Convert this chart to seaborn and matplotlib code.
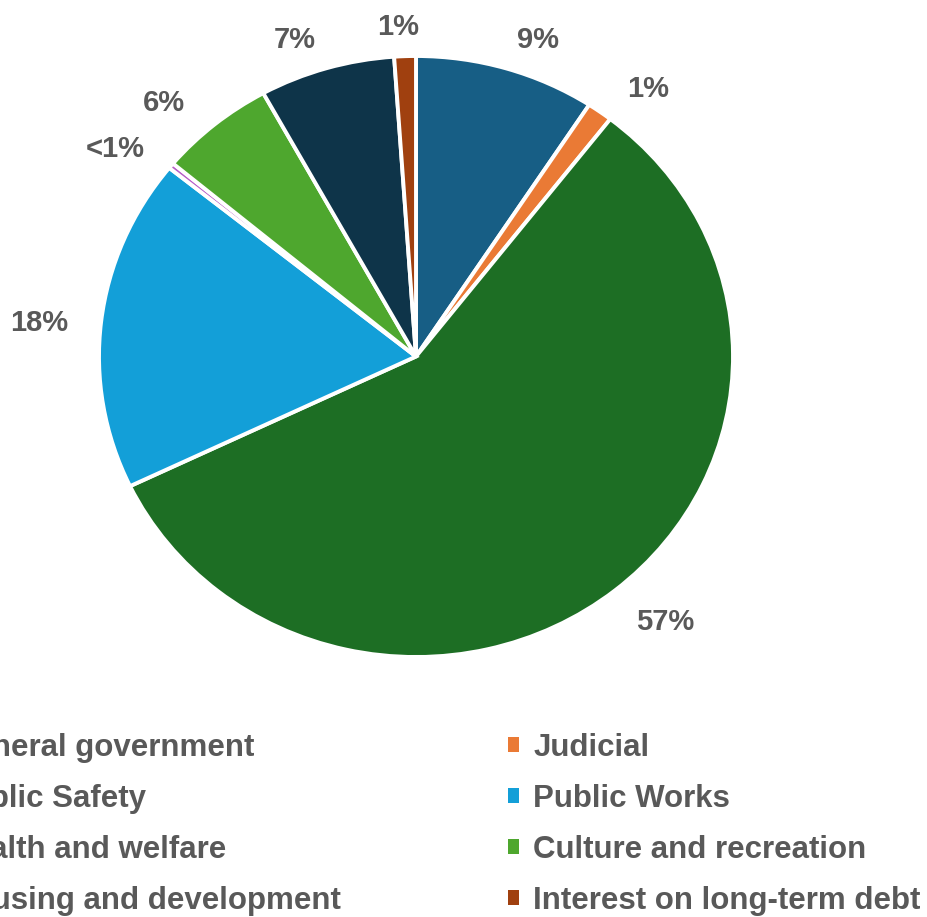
import matplotlib
matplotlib.use("Agg")
import numpy as np
import matplotlib.pyplot as plt
import seaborn as sns
from matplotlib.patches import Patch

# ---- data ----
categories = ["General government", "Judicial", "Public Safety", "Public Works",
              "Health and welfare", "Culture and recreation",
              "Housing and development", "Interest on long-term debt"]
values = [9.2, 1.3, 57.4, 17.9, 0.3, 5.9, 6.9, 1.1]
pct_labels = ["9%", "1%", "57%", "18%", "<1%", "6%", "7%", "1%"]
colors = ["#175E85", "#EA7A35", "#1D6E24", "#139FD8",
          "#B65CC8", "#4EA72E", "#0E3449", "#A0400F"]

sns.set_theme(style="white")
plt.rcParams["font.family"] = ["Liberation Sans", "DejaVu Sans"]
text_color = "#595959"

W, H = 928, 917
fig = plt.figure(figsize=(W / 100, H / 100), dpi=100)

# pie centre / radii in pixels (top-origin)
cx, cy, rx, ry = 416, 356.5, 317, 300.5
ax = fig.add_axes([(cx - rx) / W, (H - cy - ry) / H, 2 * rx / W, 2 * ry / H])

wedges, _ = ax.pie(values, colors=colors, startangle=90, counterclock=False,
                   wedgeprops=dict(edgecolor="white", linewidth=2.8))
ax.set_aspect("auto")
ax.set_xlim(-1, 1)
ax.set_ylim(-1, 1)
ax.axis("off")

# outside-end labels, placed from each wedge's mid angle
lab_rx, lab_ry, shape_p = 1.195, 1.115, 0.9
for w, lab in zip(wedges, pct_labels):
    mid = np.deg2rad((w.theta1 + w.theta2) / 2)
    c, s = np.cos(mid), np.sin(mid)
    x = lab_rx * np.sign(c) * abs(c) ** shape_p
    y = lab_ry * s
    ax.annotate(lab, xy=(x, y), xytext=(0, -5), textcoords="offset pixels",
                ha="center", va="center", fontsize=21, fontweight="bold",
                color=text_color, annotation_clip=False)

# legend, filled row by row (two columns)
handles = [Patch(facecolor=c, edgecolor="none") for c in colors]
order = list(range(0, len(categories), 2)) + list(range(1, len(categories), 2))
leg = fig.legend([handles[i] for i in order], [categories[i] for i in order],
                 ncol=2, loc="upper left",
                 bbox_to_anchor=(-75 / W, (H - 733) / H), bbox_transform=fig.transFigure,
                 frameon=False, borderpad=0, borderaxespad=0,
                 handlelength=0.35, handleheight=0.35, handletextpad=0.45,
                 columnspacing=5.35, labelspacing=0.67,
                 prop=dict(size=22.5, weight="bold"))
for t in leg.get_texts():
    t.set_color(text_color)

fig.savefig("out.png", dpi=100, facecolor="white")
